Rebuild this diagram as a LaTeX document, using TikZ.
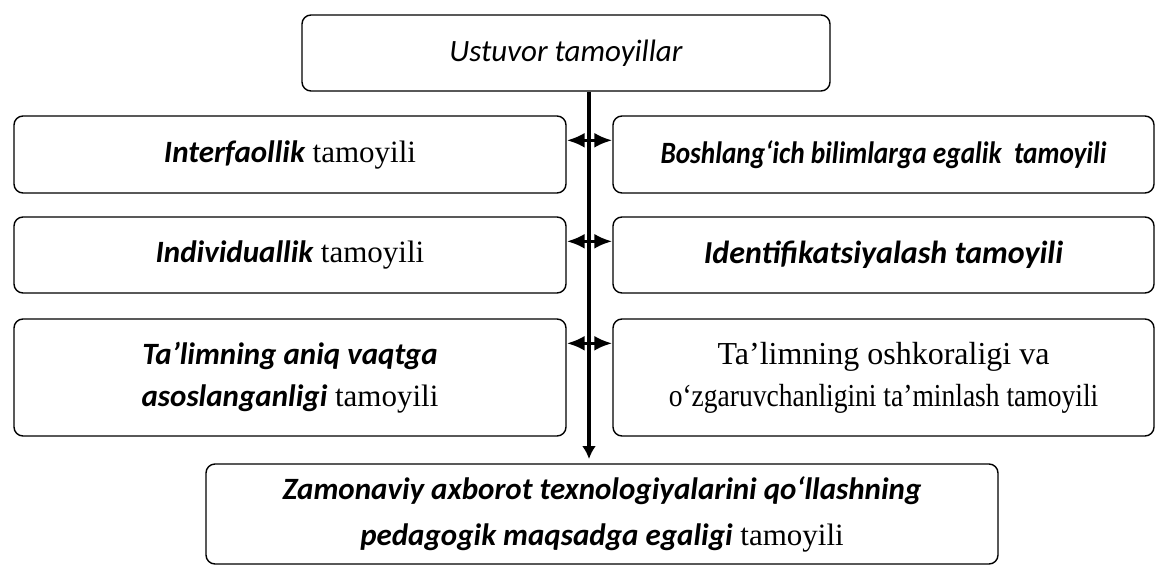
\documentclass[tikz,border=0pt]{standalone}
\usepackage{fontspec}
\setmainfont{Liberation Serif}
\newfontfamily\calfont{Carlito}
\newfontfamily\calnarrow[FakeStretch=0.88]{Carlito}
\newfontfamily\timesnarrow[FakeStretch=0.86]{Liberation Serif}
\usetikzlibrary{arrows.meta}
\tikzset{
  bx/.style={draw=black,rounded corners=9pt,line width=1.4pt,fill=white,align=center,inner sep=0pt},
  tx/.style={font=\fontsize{31}{42}\selectfont},
  lnk/.style={-{Latex[length=13pt,width=14pt]},line width=3.5pt,draw=black},
  dbl/.style={{Latex[length=18pt,width=15pt]}-{Latex[length=18pt,width=15pt]},line width=3.2pt,draw=black},
}
\newcommand{\kw}[1]{{\calfont\bfseries\itshape #1}}

\begin{document}
\begin{tikzpicture}[x=1pt,y=-1pt]
\useasboundingbox (0,0) rectangle (1156,565);
% head of the scheme
\node[bx,minimum width=528pt,minimum height=76pt,font=\fontsize{31}{36}\selectfont\calfont\itshape]
  (top) at (566,53) {Ustuvor tamoyillar};
% left column
\node[bx,tx,minimum width=552pt,minimum height=77pt] (L1) at (290,154.5) {\kw{Interfaollik} tamoyili};
\node[bx,tx,minimum width=552pt,minimum height=76pt] (L2) at (290,255) {\kw{Individuallik} tamoyili};
\node[bx,tx,minimum width=552pt,minimum height=117pt] (L3) at (290,377.5)
  {\kw{Ta’limning aniq vaqtga}\\\kw{asoslanganligi} tamoyili};
% right column
\node[bx,tx,minimum width=541pt,minimum height=77pt] (R1) at (883.5,154.5)
  {{\calnarrow\bfseries\itshape Boshlang‘ich bilimlarga egalik\ \ tamoyili}};
\node[bx,minimum width=541pt,minimum height=76pt,font=\fontsize{32}{42}\selectfont] (R2) at (883.5,255)
  {\kw{Identifikatsiyalash tamoyili}};
\node[bx,minimum width=541pt,minimum height=117pt,font=\fontsize{32}{42}\selectfont] (R3) at (883.5,377.5)
  {Ta’limning oshkoraligi va\\{\timesnarrow o‘zgaruvchanligini ta’minlash tamoyili}};
% goal
\node[bx,minimum width=792pt,minimum height=100pt,font=\fontsize{31}{46}\selectfont] (B) at (602,514)
  {\kw{Zamonaviy axborot texnologiyalarini qo‘llashning}\\\kw{pedagogik maqsadga egaligi} tamoyili};
% spine and links
\coordinate (tip) at (589,459);
\draw[lnk] (tip |- top.south) -- (tip);
\foreach \r in {1,2,3}
  \draw[dbl] ([yshift=-25pt]L\r.north east) -- ([yshift=-25pt]R\r.north west);
\end{tikzpicture}
\end{document}
